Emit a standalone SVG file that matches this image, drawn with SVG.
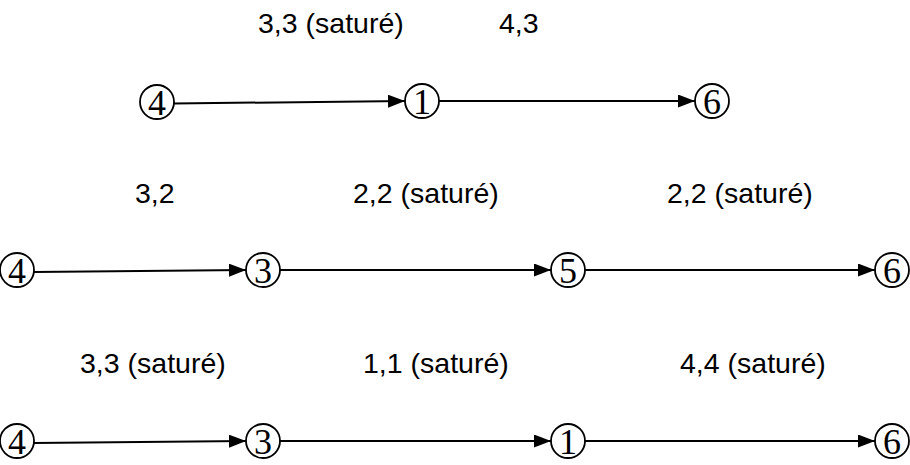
<svg xmlns="http://www.w3.org/2000/svg" width="910" height="465" viewBox="0 0 910 465">
  <defs>
    <marker id="arrow" viewBox="0 0 17 13" refX="17" refY="6.5" markerWidth="17" markerHeight="13" markerUnits="userSpaceOnUse" orient="auto">
      <path d="M0,0 L17,6.5 L0,13 Z" fill="#000"/>
    </marker>
  </defs>
  <style>
    .node circle { fill: #fff; stroke: #000; stroke-width: 1.8; }
    .node text { font-family: "Liberation Serif", "DejaVu Serif", serif; font-size: 36px; text-anchor: middle; fill: #000; }
    .edge { stroke: #000; stroke-width: 2; fill: none; marker-end: url(#arrow); }
    .label { font-family: "Liberation Sans", Arial, sans-serif; font-size: 28.5px; fill: #000; }
  </style>
  <rect width="910" height="465" fill="#fff"/>

  <!-- connectors -->
  <g id="connectors">
    <line class="edge" x1="174" y1="103.5" x2="405" y2="101"/>
    <line class="edge" x1="439" y1="101" x2="695" y2="101"/>

    <line class="edge" x1="34" y1="272" x2="246" y2="270"/>
    <line class="edge" x1="280" y1="270" x2="551" y2="270"/>
    <line class="edge" x1="585" y1="270" x2="875" y2="270"/>

    <line class="edge" x1="34" y1="443" x2="246" y2="441"/>
    <line class="edge" x1="280" y1="441" x2="551" y2="441"/>
    <line class="edge" x1="585" y1="441" x2="875" y2="441"/>
  </g>

  <!-- edge labels -->
  <g id="labels">
    <text class="label" x="258" y="33">3,3 (saturé)</text>
    <text class="label" x="499" y="33">4,3</text>

    <text class="label" x="135" y="203">3,2</text>
    <text class="label" x="353" y="203">2,2 (saturé)</text>
    <text class="label" x="667" y="203">2,2 (saturé)</text>

    <text class="label" x="80" y="373">3,3 (saturé)</text>
    <text class="label" x="363" y="373">1,1 (saturé)</text>
    <text class="label" x="680" y="373">4,4 (saturé)</text>
  </g>

  <!-- row 1 -->
  <g id="r1-n4" class="node"><circle cx="157" cy="102" r="17"/><text x="157" y="114.5">4</text></g>
  <g id="r1-n1" class="node"><circle cx="422" cy="101" r="17"/><text x="422" y="113.5">1</text></g>
  <g id="r1-n6" class="node"><circle cx="712" cy="101" r="17"/><text x="712" y="113.5">6</text></g>

  <!-- row 2 -->
  <g id="r2-n4" class="node"><circle cx="17" cy="270" r="17"/><text x="17" y="282.5">4</text></g>
  <g id="r2-n3" class="node"><circle cx="263" cy="270" r="17"/><text x="263" y="282.5">3</text></g>
  <g id="r2-n5" class="node"><circle cx="568" cy="270" r="17"/><text x="568" y="282.5">5</text></g>
  <g id="r2-n6" class="node"><circle cx="892" cy="270" r="17"/><text x="892" y="282.5">6</text></g>

  <!-- row 3 -->
  <g id="r3-n4" class="node"><circle cx="17" cy="441" r="17"/><text x="17" y="453.5">4</text></g>
  <g id="r3-n3" class="node"><circle cx="263" cy="441" r="17"/><text x="263" y="453.5">3</text></g>
  <g id="r3-n1" class="node"><circle cx="568" cy="441" r="17"/><text x="568" y="453.5">1</text></g>
  <g id="r3-n6" class="node"><circle cx="892" cy="441" r="17"/><text x="892" y="453.5">6</text></g>
</svg>
